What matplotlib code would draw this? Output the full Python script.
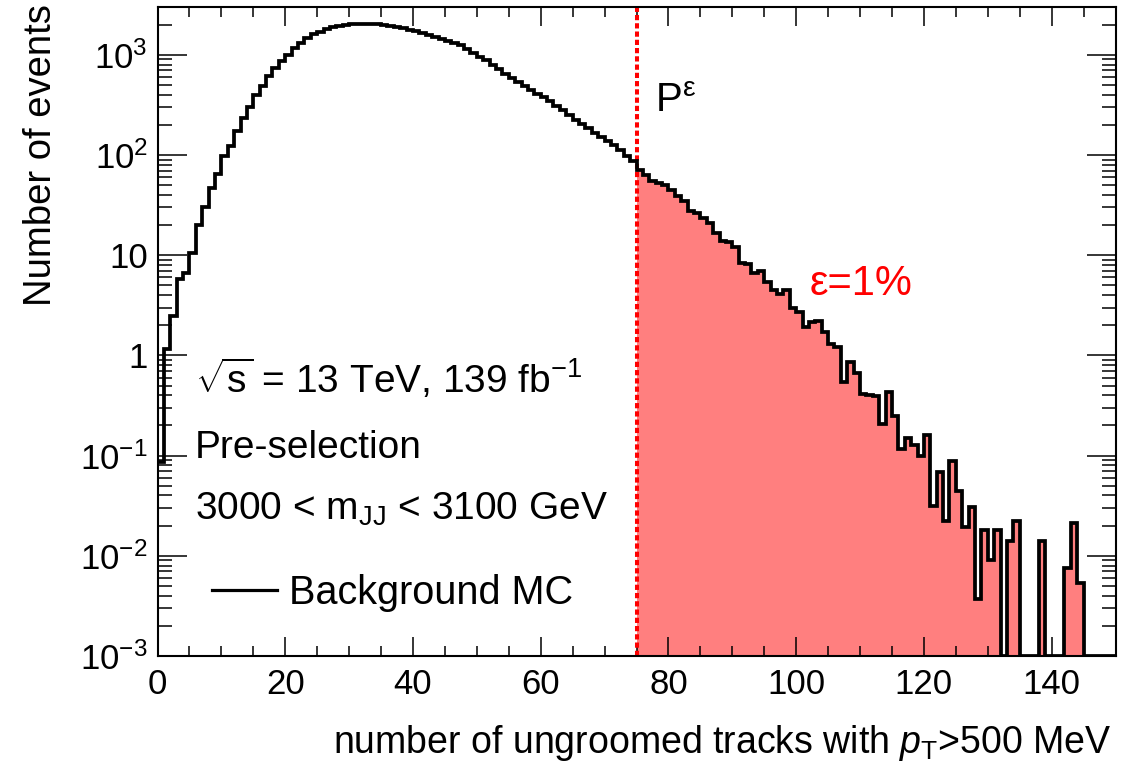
import numpy as np
import matplotlib
matplotlib.use("Agg")
import matplotlib.pyplot as plt
from matplotlib.lines import Line2D
from matplotlib.ticker import MultipleLocator, FixedLocator, LogLocator, NullFormatter

plt.rcParams['font.family'] = ['Liberation Sans', 'DejaVu Sans']
plt.rcParams['mathtext.fontset'] = 'custom'
plt.rcParams['mathtext.rm'] = 'Liberation Sans'
plt.rcParams['mathtext.it'] = 'Liberation Sans:italic'
plt.rcParams['mathtext.bf'] = 'Liberation Sans:bold'

# histogram: number of tracks, 1 bin per track, 0..150
bin_edges = np.arange(0, 151, 1)
counts_rise = [0.087, 1.15, 2.5, 5.8, 6.6, 10.5, 20, 30, 47, 65, 98, 123, 174, 234,
               302, 398, 490, 617, 741, 871, 1000, 1175]
counts_peak = [1320, 1480, 1620, 1700, 1820, 1900, 1950, 1990, 2020, 2040, 2050, 2050,
               2030, 1990, 1950, 1900, 1850, 1780, 1710, 1640, 1570]
counts_fall = [1500, 1440, 1380, 1320, 1240, 1150, 1050, 950, 880, 800, 730, 650, 590,
               540, 490, 445, 410, 380, 345, 310, 280, 250, 224, 205, 185, 165, 150,
               138, 125, 112, 98, 88]
counts_tail = [71, 63, 55, 52, 50, 45, 39, 35, 27.5, 26.5, 23.3, 20.8, 16.8, 13.9, 13.4,
               12.1, 8.4, 8.1, 6.6, 7.0, 5.4, 4.5, 4.1, 4.5, 3.0, 2.7, 1.9, 2.15, 2.2,
               1.7, 1.3, 1.2, 0.54, 0.85, 0.67, 0.41, 0.40, 0.39, 0.207, 0.43, 0.25,
               0.117, 0.150, 0.129, 0.100, 0.162, 0.0316, 0.068, 0.0224, 0.0878, 0.0447,
               0.0192, 0.0304, 0.00369, 0.0181, 0.00906, 0.0181, 0, 0.0139, 0.0220, 0,
               0, 0, 0.0141, 0, 0, 0, 0.00764, 0.0211, 0.0054, 0, 0, 0, 0, 0]
counts = np.array(counts_rise + counts_peak + counts_fall + counts_tail, dtype=float)
assert len(counts) == len(bin_edges) - 1

cut = 75          # P^eps, 1% efficiency cut
ymin, ymax = 1e-3, 3.0e3

W, H = 1122, 775
fig = plt.figure(figsize=(W / 100, H / 100), dpi=100)
ax = fig.add_axes([157.5 / W, 1 - 656 / H, (1115.5 - 157.5) / W, (656 - 7) / H])

# empty bins drawn on the lower edge, like ROOT
draw = np.clip(counts, ymin, None)
ic = int(np.searchsorted(bin_edges, cut))
ax.stairs(draw[ic:], bin_edges[ic:], fill=True, color='#ff7f7f', baseline=1e-5, zorder=1)
ax.axvline(cut, color='#ff0000', lw=2.9, linestyle=(0, (1.3, 0.75)), zorder=2)
ax.stairs(draw, bin_edges, color='black', lw=2.7, baseline=None, zorder=3)

ax.set_xlim(0, 150)
ax.set_yscale('log')
ax.set_ylim(ymin, ymax)

ax.xaxis.set_major_locator(MultipleLocator(20))
ax.xaxis.set_minor_locator(MultipleLocator(5))
yt = [1e-3, 1e-2, 1e-1, 1, 10, 1e2, 1e3]
ax.yaxis.set_major_locator(FixedLocator(yt))
ax.set_yticklabels(['$10^{-3}$', '$10^{-2}$', '$10^{-1}$', '1', '10', '$10^{2}$', '$10^{3}$'])
ax.yaxis.set_minor_locator(LogLocator(base=10, subs=np.arange(2, 10)))
ax.yaxis.set_minor_formatter(NullFormatter())

ax.tick_params(which='both', direction='in', top=True, right=True, width=1.1,
               labelsize=25)
ax.tick_params(axis='x', which='major', length=14, pad=9)
ax.tick_params(axis='x', which='minor', length=7)
ax.tick_params(axis='y', which='major', length=21, pad=7)
ax.tick_params(axis='y', which='minor', length=10)
for s in ax.spines.values():
    s.set_linewidth(1.5)

def fx(x):
    return x / W

def fy(y):
    return 1 - y / H

fig.text(fx(41), fy(4), 'Number of events', rotation=90, ha='center', va='top', fontsize=27.5)
fig.text(fx(1112), fy(753), r'number of ungroomed tracks with $p_{\mathrm{T}}$>500 MeV',
         ha='right', va='baseline', fontsize=27)

fig.text(fx(195), fy(393), r'$\sqrt{\mathrm{s}}$ = 13 TeV, 139 fb$^{-1}$', ha='left', va='baseline', fontsize=28)
fig.text(fx(195), fy(458), 'Pre-selection', ha='left', va='baseline', fontsize=28)
fig.text(fx(195), fy(520), r'3000 < m$_{\mathrm{JJ}}$ < 3100 GeV', ha='left', va='baseline', fontsize=28)
fig.text(fx(655), fy(112), r'P$^{\mathrm{ε}}$', ha='left', va='baseline', fontsize=29)
fig.text(fx(810), fy(295), 'ε=1%', color='#ff0000', ha='left', va='baseline', fontsize=30)

handle = Line2D([], [], color='black', lw=2.3)
ax.legend([handle], ['Background MC'], loc='center left', frameon=False,
          bbox_to_anchor=(fx(212), fy(593)), bbox_transform=fig.transFigure,
          borderpad=0, borderaxespad=0, handlelength=1.65, handletextpad=0.3,
          fontsize=28.5)

fig.savefig('out.png', dpi=100)
